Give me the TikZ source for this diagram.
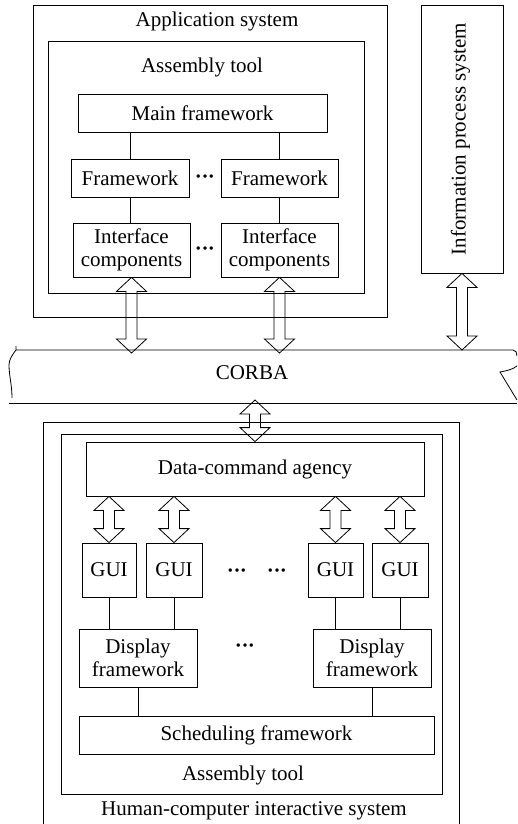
\documentclass[tikz,border=0pt]{standalone}
\usepackage{fontspec}
\setmainfont{Liberation Serif}
\usetikzlibrary{calc}
\newcommand\blkarrow[2]{\draw[blockarr] let \p1=(#1), \p2=(#2) in
  (\x1,\y1) -- (\x1+15pt,\y1-14pt) -- (\x1+5.5pt,\y1-14pt) -- (\x1+5.5pt,\y2+14pt) -- (\x1+15pt,\y2+14pt)
  -- (\x1,\y2) -- (\x1-15pt,\y2+14pt) -- (\x1-5.5pt,\y2+14pt) -- (\x1-5.5pt,\y1-14pt) -- (\x1-15pt,\y1-14pt) -- cycle;}
\begin{document}
\begin{tikzpicture}[x=1pt,y=-1pt, line width=0.8pt,
  txt/.style={font=\fontsize{21}{23.5}\selectfont},
  box/.style={draw, inner sep=0pt, align=center, txt},
  frame/.style={draw, inner sep=0pt},
  lbl/.style={inner sep=0pt, txt},
  dotsn/.style={inner sep=0pt, anchor=base, font=\fontsize{21}{23.5}\selectfont\bfseries},
  link/.style={draw},
  blockarr/.style={draw, line join=miter}]
\clip (0,0) rectangle (517,824);
% ---------- Application system ----------
\node[frame, minimum width=354pt, minimum height=312pt] (app) at (210,161) {};
\node[lbl] (applbl) at (217,21) {Application system};
\node[frame, minimum width=316pt, minimum height=252pt] (at1) at (206,167) {};
\node[lbl] (at1lbl) at (202,67) {Assembly tool};
\node[box, minimum width=249pt, minimum height=38pt] (main) at (202.5,113) {Main framework};
\node[box, minimum width=118pt, minimum height=38pt] (fw1) at (130,178) {Framework};
\node[box, minimum width=117pt, minimum height=38pt] (fw2) at (279.5,178) {Framework};
\node[box, minimum width=117pt, minimum height=54pt] (ic1) at (131.5,250) {Interface\\components};
\node[box, minimum width=117pt, minimum height=54pt] (ic2) at (279.5,250) {Interface\\components};
\node[dotsn] (d1) at (205,183) {·\kern-0.5pt·\kern-0.5pt·};
\node[dotsn] (d2) at (205,255) {·\kern-0.5pt·\kern-0.5pt·};
\draw[link] (fw1.north) -- (fw1.north |- main.south);
\draw[link] (279,159) coordinate (fw2t) -- (fw2t |- main.south);
\draw[link] (fw1.south) -- (fw1.south |- ic1.north);
\draw[link] (279,197) coordinate (fw2b) -- (fw2b |- ic2.north);
% ---------- Information process system ----------
\node[frame, minimum width=82pt, minimum height=268pt] (info) at (462,139) {};
\node[lbl, rotate=90] (infolbl) at (460.5,139) {Information process system};
% ---------- CORBA ----------
\node[lbl] (corba) at (252,373) {CORBA};
\draw (16,346) -- (16,350) -- (513,350) .. controls (516,350) and (517,353) .. (517,356);
\draw (16,350) .. controls (12,355) and (9,360) .. (9,365) .. controls (9,375) and (12,385) .. (12,398);
\draw (9,403) -- (517,403);
\draw (517,366) .. controls (512,370) and (505,371) .. (500,372) -- (517,400);
\coordinate (cb1) at (131.5,353);
\coordinate (cb2) at (279.5,353);
\coordinate (cb3) at (462,350);
\coordinate (cb4) at (255,400);
\blkarrow{ic1.south}{cb1}
\blkarrow{ic2.south}{cb2}
\blkarrow{info.south}{cb3}
% ---------- Human-computer interactive system ----------
\node[frame, anchor=north west, minimum width=416pt, minimum height=420pt] (hci) at (43,422) {};
\node[frame, minimum width=381pt, minimum height=360pt] (at2) at (251.5,614) {};
\node[box, minimum width=338pt, minimum height=54pt] (dca) at (255,469) {Data-command agency};
\blkarrow{cb4}{dca.north}
\node[box, minimum width=54pt, minimum height=54pt] (g1) at (109,570) {GUI};
\node[box, minimum width=56pt, minimum height=54pt] (g2) at (174,570) {GUI};
\node[box, minimum width=55pt, minimum height=54pt] (g3) at (335.5,570) {GUI};
\node[box, minimum width=56pt, minimum height=54pt] (g4) at (400,570) {GUI};
\node[dotsn] (d3) at (237,577) {·\kern-0.5pt·\kern-0.5pt·};
\node[dotsn] (d4) at (277,577) {·\kern-0.5pt·\kern-0.5pt·};
\foreach \g in {g1,g2,g3,g4}{\blkarrow{\g.north |- dca.south}{\g.north}}
\node[box, minimum width=118pt, minimum height=58pt] (df1) at (138,658) {Display\\framework};
\node[box, minimum width=118pt, minimum height=58pt] (df2) at (372,658) {Display\\framework};
\node[dotsn] (d5) at (245,652) {·\kern-0.5pt·\kern-0.5pt·};
\node[box, minimum width=355pt, minimum height=38pt] (sch) at (256.5,735) {Scheduling framework};
\foreach \g/\d in {g1/df1,g2/df1,g3/df2,g4/df2}{\draw[link] (\g.south) -- (\g.south |- \d.north);}
\draw[link] (df1.south) -- (df1.south |- sch.north);
\draw[link] (df2.south) -- (df2.south |- sch.north);
\node[lbl] (at2lbl) at (243,775) {Assembly tool};
\node[lbl] (hcilbl) at (254,811) {Human-computer interactive system};
\end{tikzpicture}
\end{document}
